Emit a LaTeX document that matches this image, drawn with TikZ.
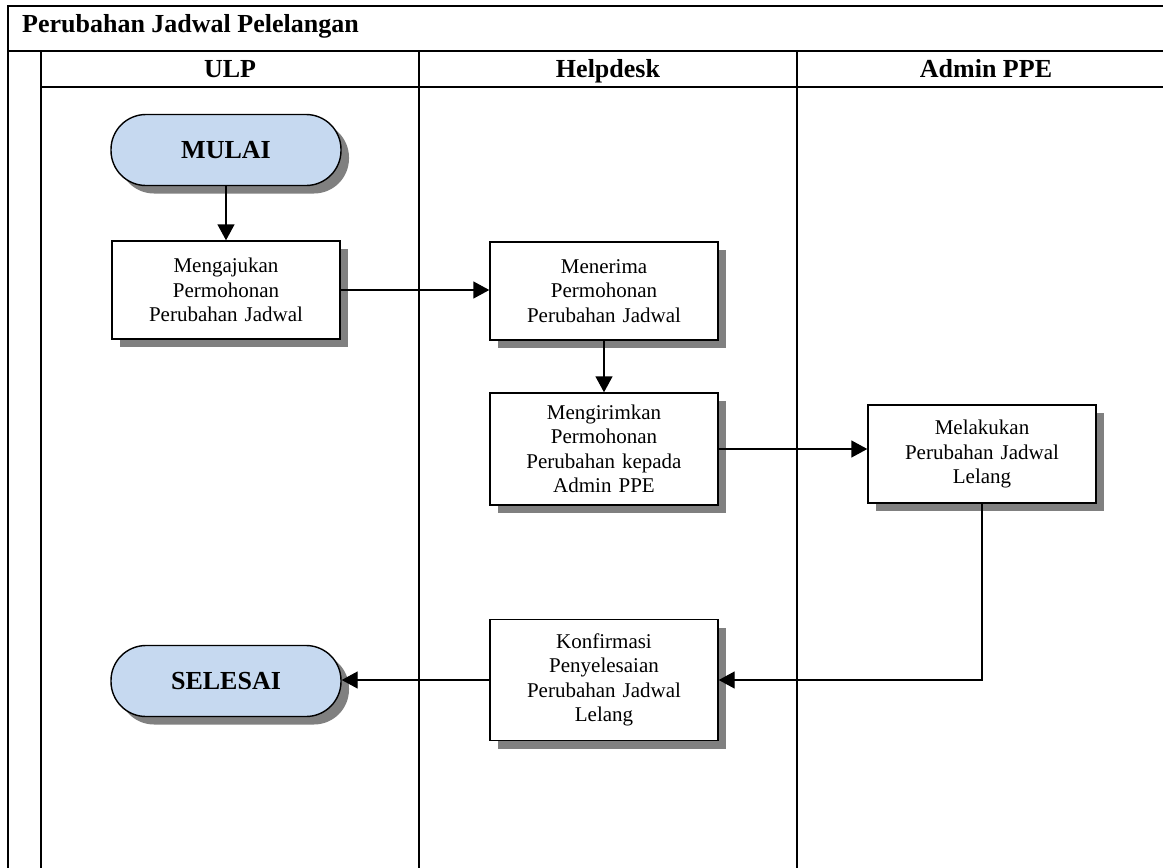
\documentclass[tikz,border=0pt]{standalone}
\usepackage{fontspec}
\setmainfont{Liberation Serif}
\usetikzlibrary{shadows,arrows.meta}
\definecolor{termfill}{HTML}{C6D9F0}
\definecolor{shadowgray}{HTML}{808080}
\tikzset{
  frameline/.style={line width=1.6pt, line cap=rect},
  boxshadow/.style={drop shadow={shadow xshift=8pt, shadow yshift=-8pt, fill=shadowgray, opacity=1}},
  procbox/.style={draw, line width=1.4pt, fill=white, boxshadow, align=center,
    minimum width=228pt, text width=210pt,
    font=\fontsize{21}{24.5}\selectfont},
  termbox/.style={draw, line width=1.4pt, fill=termfill, boxshadow, rounded corners=35pt,
    minimum width=230pt, minimum height=71pt, font=\fontsize{26}{30}\selectfont\bfseries},
  lanehead/.style={font=\fontsize{26}{30}\selectfont\bfseries, inner sep=0pt},
  conn/.style={line width=1.4pt, -{Triangle[length=16pt,width=17pt]}},
}
\begin{document}
\begin{tikzpicture}[x=1pt,y=-1pt]
\useasboundingbox (0,0) rectangle (1163,868);
\fill[white] (0,0) rectangle (1163,868);
% frame
\draw[frameline] (8,868) -- (8,6) -- (1170,6);
\draw[frameline] (8,51) -- (1170,51);
\draw[frameline] (41,51) -- (41,868);
\draw[frameline] (41,87) -- (1170,87);
\draw[frameline] (419,51) -- (419,868);
\draw[frameline] (797,51) -- (797,868);
\node[lanehead, anchor=base west] (title) at (22,32) {Perubahan Jadwal Pelelangan};
\node[lanehead, anchor=base] (hulp) at (230,77) {ULP};
\node[lanehead, anchor=base] (hhelp) at (608,77) {Helpdesk};
\node[lanehead, anchor=base] (hadmin) at (986,77) {Admin PPE};
% nodes
\node[termbox] (mulai) at (226,150) {MULAI};
\node[procbox, minimum height=98pt] (aju) at (226,290) {Mengajukan\\Permohonan\\Perubahan Jadwal};
\node[procbox, minimum height=98pt] (terima) at (604,291) {Menerima\\Permohonan\\Perubahan Jadwal};
\node[procbox, minimum height=112pt] (kirim) at (604,449) {Mengirimkan\\Permohonan\\Perubahan kepada\\Admin PPE};
\node[procbox, minimum height=98pt] (laku) at (982,454) {Melakukan\\Perubahan Jadwal\\Lelang};
\node[procbox, minimum height=121pt] (konf) at (604,680) {Konfirmasi\\Penyelesaian\\Perubahan Jadwal\\Lelang};
\node[termbox] (selesai) at (226,681) {SELESAI};
% connectors
\draw[conn] (mulai) -- (aju);
\draw[conn] (aju.east) -- (aju.east -| terima.west);
\draw[conn] (terima) -- (kirim);
\draw[conn] (kirim.east) -- (kirim.east -| laku.west);
\draw[conn] (laku.south) |- (konf.east);
\draw[conn] (konf.west) -- (konf.west -| selesai.east);
\end{tikzpicture}
\end{document}
